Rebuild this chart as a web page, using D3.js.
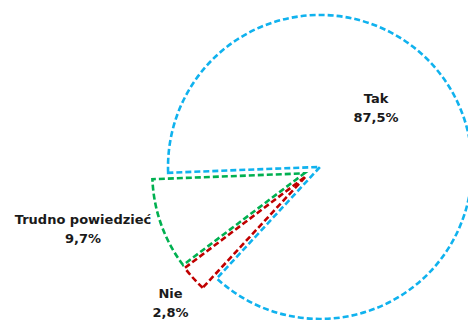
<!DOCTYPE html>
<html>
<head>
<meta charset="utf-8">
<script src="https://cdn.jsdelivr.net/npm/d3@7"></script>
<style>
  html, body { margin: 0; padding: 0; background: #ffffff; }
  svg { display: block; }
</style>
</head>
<body>
<svg id="chart" width="468" height="320"></svg>
<script>
// Data
const categories = ["Tak", "Nie", "Trudno powiedzieć"];
const values = [87.5, 2.8, 9.7];
const valueLabels = ["87,5%", "2,8%", "9,7%"];

// Styles / layout (kept separate from data)
const colors = ["#10b2ee", "#c00000", "#00b050"];
const explode = 8.5;
const labelAnchors = [[376, 103], [170.5, 298], [83, 224]];

const width = 468, height = 320;
const cx = 312.3, cy = 170.5, radius = 152;
const startDeg = -92.2;

const svg = d3.select("#chart");

const pie = d3.pie()
  .sort(null)
  .value(d => d)
  .startAngle(startDeg * Math.PI / 180)
  .endAngle(startDeg * Math.PI / 180 + 2 * Math.PI);

const arcs = pie(values);
const arcGen = d3.arc().innerRadius(0).outerRadius(radius);

const g = svg.append("g").attr("transform", `translate(${cx},${cy})`);

g.selectAll("path.slice")
  .data(arcs)
  .enter()
  .append("path")
  .attr("class", "slice")
  .attr("d", d => arcGen(d))
  .attr("transform", d => {
    const mid = (d.startAngle + d.endAngle) / 2;
    return `translate(${explode * Math.sin(mid)},${-explode * Math.cos(mid)})`;
  })
  .attr("fill", "none")
  .attr("stroke", (d, i) => colors[i])
  .attr("stroke-width", 2.6)
  .attr("stroke-dasharray", "6,3")
  .attr("stroke-linejoin", "miter");

const labels = svg.append("g")
  .attr("font-family", "'DejaVu Sans', sans-serif")
  .attr("font-weight", "bold")
  .attr("font-size", 13)
  .attr("fill", "#1a1a1a")
  .attr("text-anchor", "middle");

categories.forEach((c, i) => {
  const [x, y] = labelAnchors[i];
  const t = labels.append("text").attr("x", x).attr("y", y);
  t.append("tspan").attr("x", x).attr("dy", 0).text(c);
  t.append("tspan").attr("x", x).attr("dy", 19).text(valueLabels[i]);
});
</script>
</body>
</html>
